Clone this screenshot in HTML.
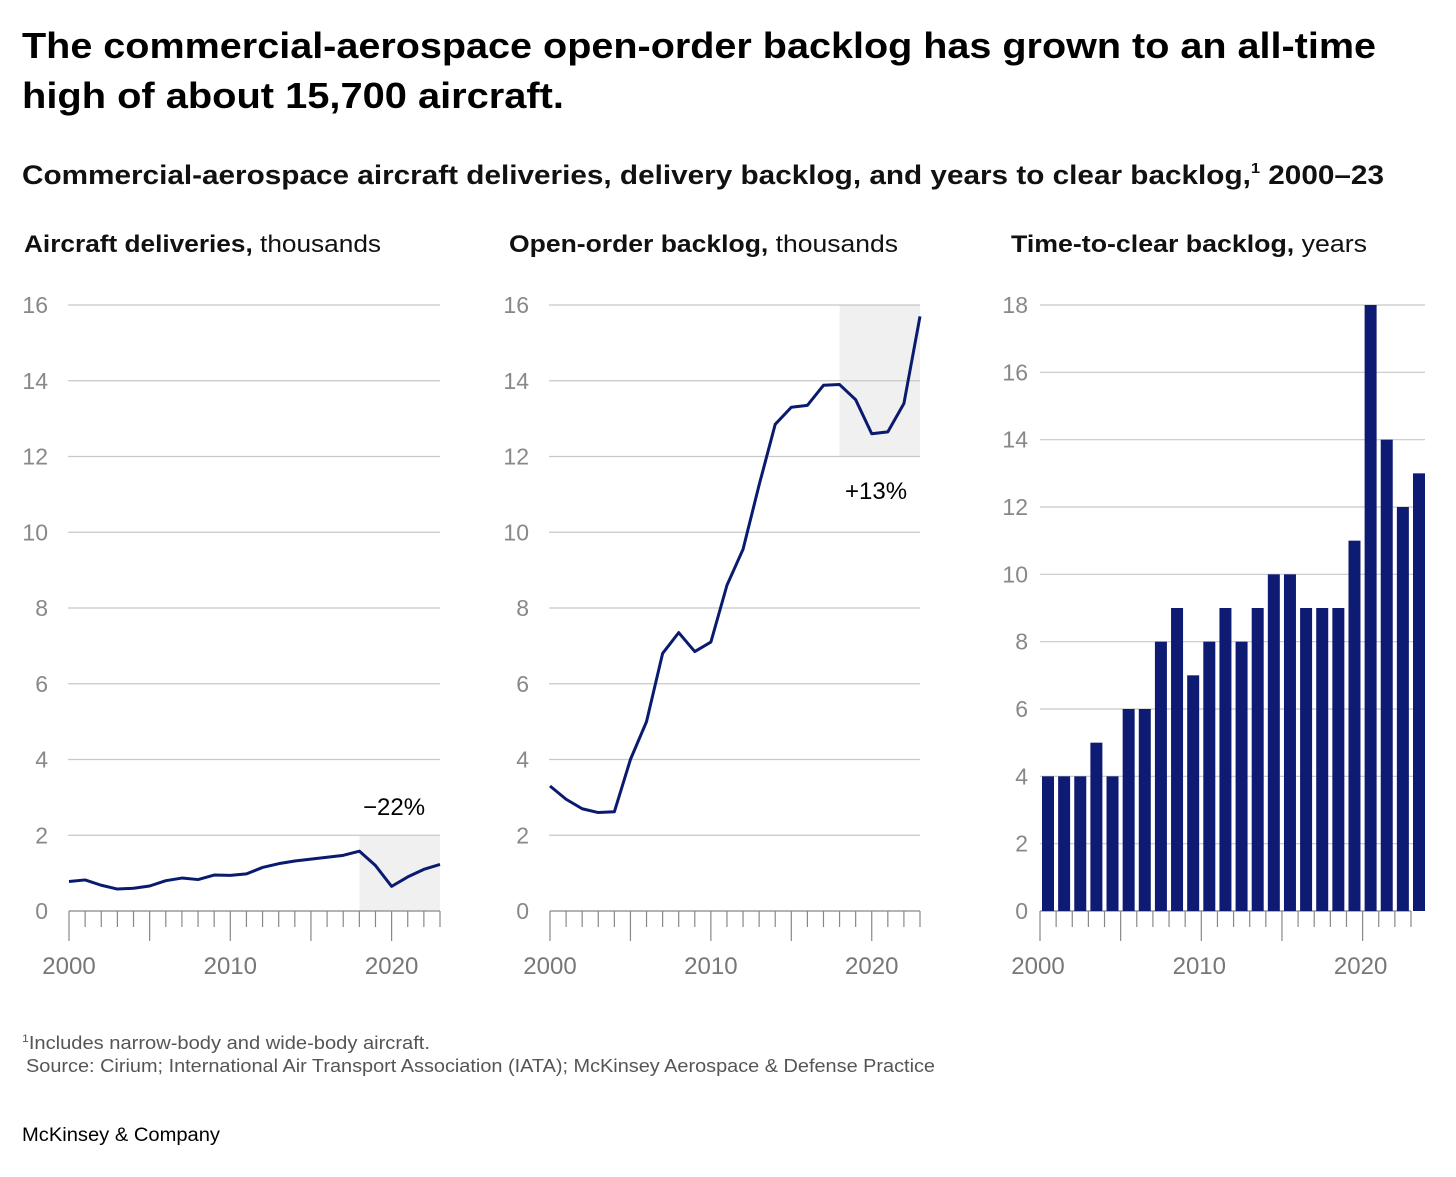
<!DOCTYPE html>
<html><head><meta charset="utf-8"><style>
body{margin:0;background:#fff;font-family:"Liberation Sans",sans-serif;}
</style></head><body>
<svg width="1456" height="1172" xmlns="http://www.w3.org/2000/svg" font-family="Liberation Sans, sans-serif">
<text x="22" y="58" font-size="36" font-weight="bold" fill="#000" textLength="1354" lengthAdjust="spacingAndGlyphs">The commercial-aerospace open-order backlog has grown to an all-time</text>
<text x="22" y="108" font-size="36" font-weight="bold" fill="#000" textLength="542" lengthAdjust="spacingAndGlyphs">high of about 15,700 aircraft.</text>
<text x="22" y="184" font-size="27" font-weight="bold" fill="#111" textLength="1362" lengthAdjust="spacingAndGlyphs">Commercial-aerospace aircraft deliveries, delivery backlog, and years to clear backlog,<tspan font-size="15" dy="-11">1</tspan><tspan dy="11"> 2000–23</tspan></text>
<text x="24" y="252" font-size="24" fill="#111" textLength="357" lengthAdjust="spacingAndGlyphs"><tspan font-weight="bold">Aircraft deliveries,</tspan> thousands</text>
<text x="509" y="252" font-size="24" fill="#111" textLength="389" lengthAdjust="spacingAndGlyphs"><tspan font-weight="bold">Open-order backlog,</tspan> thousands</text>
<text x="1011" y="252" font-size="24" fill="#111" textLength="356" lengthAdjust="spacingAndGlyphs"><tspan font-weight="bold">Time-to-clear backlog,</tspan> years</text>
<g id="g1"></g><g id="g2"></g><g id="g3"></g>
<text x="22" y="1049" font-size="18" fill="#555" textLength="408" lengthAdjust="spacingAndGlyphs"><tspan font-size="11" dy="-7">1</tspan><tspan dy="7">Includes narrow-body and wide-body aircraft.</tspan></text>
<text x="26" y="1072" font-size="18" fill="#555" textLength="909" lengthAdjust="spacingAndGlyphs">Source: Cirium; International Air Transport Association (IATA); McKinsey Aerospace &amp; Defense Practice</text>
<text x="22" y="1141" font-size="19" fill="#000" textLength="198" lengthAdjust="spacingAndGlyphs">McKinsey &amp; Company</text>
</svg>
<script>
const years=[2000,2001,2002,2003,2004,2005,2006,2007,2008,2009,2010,2011,2012,2013,2014,2015,2016,2017,2018,2019,2020,2021,2022,2023];
const deliveries=[0.78,0.82,0.68,0.58,0.6,0.66,0.8,0.87,0.83,0.95,0.94,0.98,1.15,1.25,1.32,1.37,1.42,1.47,1.58,1.2,0.65,0.9,1.1,1.23];
const backlog=[3.3,2.95,2.7,2.6,2.62,4.0,5.0,6.8,7.35,6.85,7.1,8.6,9.55,11.25,12.85,13.3,13.35,13.88,13.9,13.5,12.6,12.65,13.4,15.7];
const yearsToClear=[4,4,4,5,4,6,6,8,9,7,8,9,8,9,10,10,9,9,9,11,18,14,12,13];
const ticks16=[0,2,4,6,8,10,12,14,16];
const ticks18=[0,2,4,6,8,10,12,14,16,18];
const xLabels=[2000,2010,2020];
const NS="http://www.w3.org/2000/svg";
function mk(p,t,a){const e=document.createElementNS(NS,t);for(const k in a)e.setAttribute(k,a[k]);p.appendChild(e);return e;}
const Y0=911,Y1=305;
function panel(g,x0,x1,ymax,ticks,yLabX,gridX0,gridX1,name,lblOff){
  const xs=y=>x0+(y-2000)*(x1-x0)/23;
  const ys=v=>Y0-(v/ymax)*(Y0-Y1);
  ticks.forEach(t=>{
    if(t>0){const l=mk(g,'line',{x1:gridX0,x2:gridX1,y1:ys(t),y2:ys(t),stroke:'#c8c8c8','stroke-width':1.2});
    
    }
    const tx=mk(g,'text',{x:yLabX,y:ys(t)+8,'font-size':23,fill:'#888','text-anchor':'end'});tx.textContent=t;
    
    
  });
  const ax=mk(g,'line',{x1:x0,x2:x1,y1:Y0,y2:Y0,stroke:'#888','stroke-width':1.2});
  
  
  years.forEach(y=>{const long=(y%5===0);const t=mk(g,'line',{x1:xs(y),x2:xs(y),y1:Y0,y2:Y0+(long?30:16),stroke:'#888','stroke-width':1.2});
    
    });
  xLabels.forEach(y=>{const t=mk(g,'text',{x:xs(y)+lblOff,y:974,'font-size':24,fill:'#777','text-anchor':'middle'});t.textContent=y;
    
    });
  return {xs,ys};
}
function linePanel(id,x0,x1,vals,shadeTop,label,lx,ly,name){
  const g=document.getElementById(id);
  const sh=mk(g,'g',{});
  const {xs,ys}=panel(g,x0,x1,16,ticks16,48+(x0-69),x0-1,x1,name,0);
  const r=mk(sh,'rect',{x:xs(2018),y:ys(shadeTop),width:xs(2023)-xs(2018),height:ys(shadeTop===16?12:0)-ys(shadeTop),fill:'#f0f0f0'});
  
  
  const p=mk(g,'polyline',{points:vals.map((v,i)=>xs(years[i])+','+ys(v)).join(' '),fill:'none',stroke:'#0a1a6e','stroke-width':3,'stroke-linejoin':'round'});
  
  
  const t=mk(g,'text',{x:lx,y:ly,'font-size':24,fill:'#000'});t.textContent=label;
  
  
}
linePanel('g1',69,440,deliveries,2,'\u221222%',363,815,'deliveries');
linePanel('g2',550,920,backlog,16,'+13%',845,499,'backlog');
(function(){
  const g=document.getElementById('g3');
  const {xs,ys}=panel(g,1040,1411,18,ticks18,1028,1040,1425,'time-to-clear',-2);
  yearsToClear.forEach((v,i)=>{const b=mk(g,'rect',{x:xs(years[i])+2,y:ys(v),width:12,height:Y0-ys(v),fill:'#0d1b72'});
    
    });
})();
</script>
</body></html>
